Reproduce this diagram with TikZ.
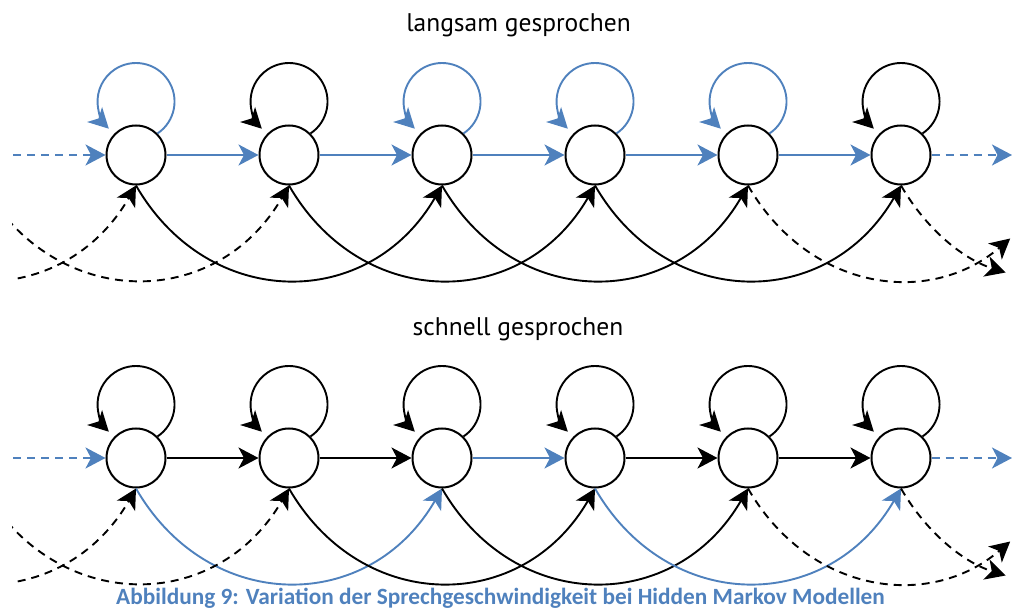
\documentclass[tikz,border=0pt]{standalone}
\usepackage{fontspec}
\setmainfont{PT Sans}
\newfontfamily\capfont{Carlito}
\usetikzlibrary{arrows.meta}
\definecolor{hmmblue}{RGB}{79,129,189}
% self-transition of a state: a near-full circle above the node
\newcommand\stateloop[2]{\draw[#1] (#2.45) arc[start angle=-56,end angle=225,radius=38.5pt];}
\begin{document}
\begin{tikzpicture}[x=1pt,y=1pt,
  state/.style={circle,draw=black,fill=white,line width=2pt,minimum size=59pt,inner sep=0pt},
  edge/.style={line width=1.9pt,-{Stealth[length=20pt,width=21pt,inset=5.5pt]}},
  blueedge/.style={edge,color=hmmblue},
  blackedge/.style={edge,color=black},
  open/.style={dash pattern=on 8pt off 6pt},
  skip/.style={out=-60,in=-120,looseness=1.22},
  heading/.style={font=\fontsize{25.5}{30}\selectfont,anchor=base},
]
\useasboundingbox (0,0) rectangle (1013,610);

% states of both chains
\foreach \i/\x in {1/136,2/289,3/442,4/595,5/748,6/901}{
  \node[state] (a\i) at (\x,455) {};
  \node[state] (b\i) at (\x,152) {};
}

% headings
\node[heading] (t1) at (518.5,578) {langsam gesprochen};
\node[heading] (t2) at (518,274) {schnell gesprochen};

% ---------- upper chain ----------
\coordinate (ain) at (13,455);
\coordinate (aout) at (1012,455);
\draw[blueedge,open] (ain) -- (a1);
\foreach \i/\j in {1/2,2/3,3/4,4/5,5/6}{\draw[blueedge] (a\i) -- (a\j);}
\draw[blueedge,open] (a6) -- (aout);

\stateloop{blueedge}{a1}
\stateloop{blackedge}{a2}
\stateloop{blueedge}{a3}
\stateloop{blueedge}{a4}
\stateloop{blueedge}{a5}
\stateloop{blackedge}{a6}

\foreach \i/\j in {1/3,2/4,3/5,4/6}{\draw[blackedge] (a\i.south) to[skip] (a\j.south);}

\coordinate (aR1) at (1010.2,371.5);
\coordinate (aR2) at (1005.6,337.5);
\draw[blackedge,open] (a5.south) .. controls +(60.7,-105.1) and +(-81.2,-69.4) .. (aR1);
\draw[blackedge,open] (a6.south) .. controls +(26.3,-45.6) and +(-40.7,12.7) .. (aR2);

% ---------- lower chain ----------
\coordinate (bin) at (13,152);
\coordinate (bout) at (1012,152);
\draw[blueedge,open] (bin) -- (b1);
\draw[blackedge] (b1) -- (b2);
\draw[blackedge] (b2) -- (b3);
\draw[blueedge] (b3) -- (b4);
\draw[blackedge] (b4) -- (b5);
\draw[blackedge] (b5) -- (b6);
\draw[blueedge,open] (b6) -- (bout);

\foreach \i in {1,...,6}{\stateloop{blackedge}{b\i}}

\draw[blueedge] (b1.south) to[skip] (b3.south);
\draw[blackedge] (b2.south) to[skip] (b4.south);
\draw[blackedge] (b3.south) to[skip] (b5.south);
\draw[blueedge] (b4.south) to[skip] (b6.south);

\coordinate (bR1) at (1010.2,68.5);
\coordinate (bR2) at (1005.6,34.5);
\draw[blackedge,open] (b5.south) .. controls +(60.7,-105.1) and +(-81.2,-69.4) .. (bR1);
\draw[blackedge,open] (b6.south) .. controls +(26.3,-45.6) and +(-40.7,12.7) .. (bR2);

% transitions entering from states left of the picture
\begin{scope}
  \clip (12,0) rectangle (1013,610);
  \coordinate (aL1) at (-170,425);
  \coordinate (aL0) at (-17,425);
  \coordinate (bL1) at (-170,122);
  \coordinate (bL0) at (-17,122);
  \draw[blackedge,open] (aL1) to[skip] (a1.south);
  \draw[blackedge,open] (aL0) to[skip] (a2.south);
  \draw[blackedge,open] (bL1) to[skip] (b1.south);
  \draw[blackedge,open] (bL0) to[skip] (b2.south);
\end{scope}

% caption
\node[font=\capfont\bfseries\fontsize{23.3}{26}\selectfont,text=hmmblue,anchor=base] (cap) at (500.5,5)
  {Abbildung 9: Variation der Sprechgeschwindigkeit bei Hidden Markov Modellen};
\end{tikzpicture}
\end{document}
